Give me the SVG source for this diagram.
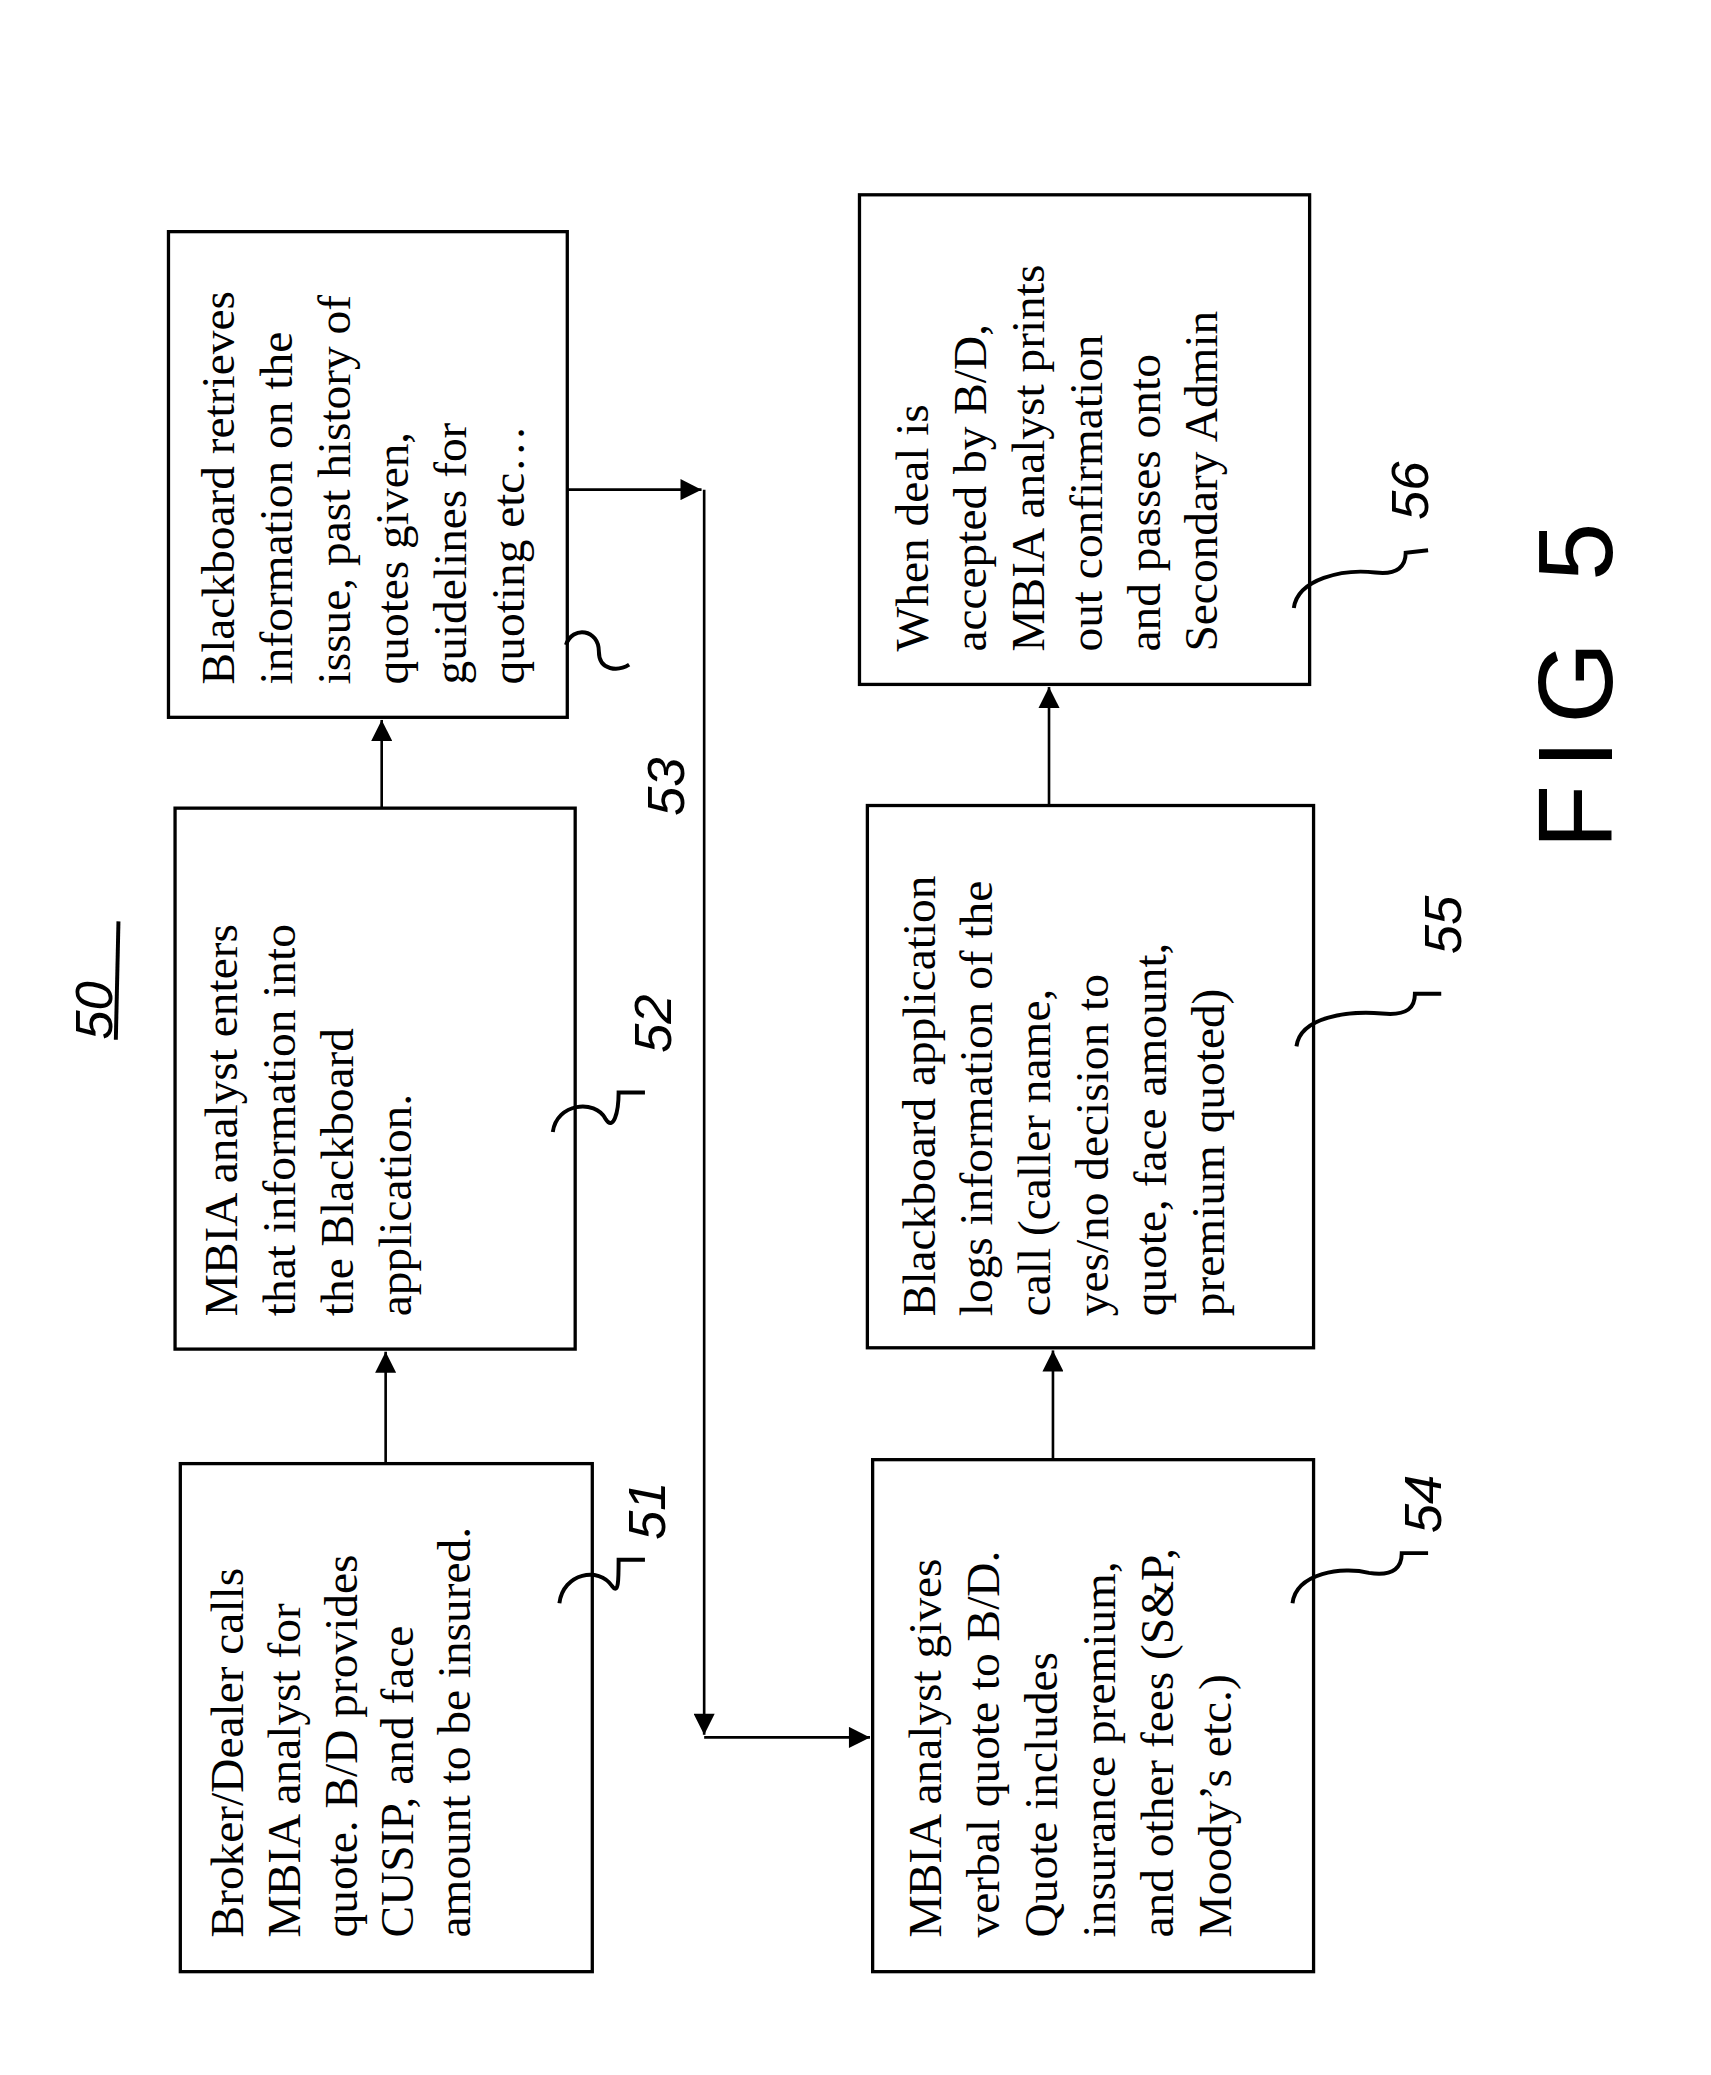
<svg xmlns="http://www.w3.org/2000/svg" width="1711" height="2075" viewBox="0 0 1711 2075">
<style>
.b{fill:#fff;stroke:#000;stroke-width:2.5}
.t{font-family:"Liberation Serif",serif;font-size:36px;fill:#000}
.c{fill:none;stroke:#000;stroke-width:2}
.h{font-family:"Liberation Sans",sans-serif;font-style:italic;font-size:40px;fill:#000}
.q{fill:none;stroke:#000;stroke-width:3}
</style>
<defs><marker id="a" viewBox="0 0 10 10" refX="10" refY="5" markerWidth="20" markerHeight="16" markerUnits="userSpaceOnUse" orient="auto"><path d="M0,0L10,5L0,10z"/></marker></defs>
<rect width="1711" height="2075" fill="#fff"/>
<g transform="scale(1.3162)">
<g id="connectors">
<line class="c" x1="293" y1="1112" x2="293" y2="1027" marker-end="url(#a)"/>
<line class="c" x1="290" y1="614" x2="290" y2="547" marker-end="url(#a)"/>
<polyline class="c" points="431,372 533,372" marker-end="url(#a)"/>
<polyline class="c" points="535,372 535,1318" marker-end="url(#a)"/>
<polyline class="c" points="535,1320 661,1320" marker-end="url(#a)"/>
<line class="c" x1="800" y1="1109" x2="800" y2="1026" marker-end="url(#a)"/>
<line class="c" x1="797" y1="612" x2="797" y2="522" marker-end="url(#a)"/>
</g>
<g id="n51"><rect class="b" x="137" y="1112" width="313" height="386"/>
<text class="t" transform="translate(185,1472) rotate(-90)">Broker/Dealer calls</text>
<text class="t" transform="translate(228,1472) rotate(-90)">MBIA analyst for</text>
<text class="t" transform="translate(271,1472) rotate(-90)">quote.  B/D provides</text>
<text class="t" transform="translate(314,1472) rotate(-90)">CUSIP, and face</text>
<text class="t" transform="translate(357,1472) rotate(-90)">amount to be insured.</text></g>
<g id="n52"><rect class="b" x="133" y="614" width="304" height="411"/>
<text class="t" transform="translate(180,1000) rotate(-90)">MBIA analyst enters</text>
<text class="t" transform="translate(224,1000) rotate(-90)">that information into</text>
<text class="t" transform="translate(268,1000) rotate(-90)">the Blackboard</text>
<text class="t" transform="translate(312,1000) rotate(-90)">application.</text></g>
<g id="n53"><rect class="b" x="128" y="176" width="303" height="369"/>
<text class="t" transform="translate(178,520) rotate(-90)">Blackboard retrieves</text>
<text class="t" transform="translate(222,520) rotate(-90)">information on the</text>
<text class="t" transform="translate(266,520) rotate(-90)">issue, past history of</text>
<text class="t" transform="translate(310,520) rotate(-90)">quotes given,</text>
<text class="t" transform="translate(354,520) rotate(-90)">guidelines for</text>
<text class="t" transform="translate(398,520) rotate(-90)">quoting etc…</text></g>
<g id="n54"><rect class="b" x="663" y="1109" width="335" height="389"/>
<text class="t" transform="translate(715,1472) rotate(-90)">MBIA analyst gives</text>
<text class="t" transform="translate(759,1472) rotate(-90)">verbal quote to B/D.</text>
<text class="t" transform="translate(803,1472) rotate(-90)">Quote includes</text>
<text class="t" transform="translate(847,1472) rotate(-90)">insurance premium,</text>
<text class="t" transform="translate(891,1472) rotate(-90)">and other fees (S&amp;P,</text>
<text class="t" transform="translate(935,1472) rotate(-90)">Moody’s etc.)</text></g>
<g id="n55"><rect class="b" x="659" y="612" width="339" height="412"/>
<text class="t" transform="translate(710,1000) rotate(-90)">Blackboard application</text>
<text class="t" transform="translate(754,1000) rotate(-90)">logs information of the</text>
<text class="t" transform="translate(798,1000) rotate(-90)">call (caller name,</text>
<text class="t" transform="translate(842,1000) rotate(-90)">yes/no decision to</text>
<text class="t" transform="translate(886,1000) rotate(-90)">quote, face amount,</text>
<text class="t" transform="translate(930,1000) rotate(-90)">premium quoted)</text></g>
<g id="n56"><rect class="b" x="653" y="148" width="342" height="372"/>
<text class="t" transform="translate(705,495) rotate(-90)">When deal is</text>
<text class="t" transform="translate(749,495) rotate(-90)">accepted by B/D,</text>
<text class="t" transform="translate(793,495) rotate(-90)">MBIA analyst prints</text>
<text class="t" transform="translate(837,495) rotate(-90)">out confirmation</text>
<text class="t" transform="translate(881,495) rotate(-90)">and passes onto</text>
<text class="t" transform="translate(925,495) rotate(-90)">Secondary Admin</text></g>
<g id="labels">
<text class="h" transform="translate(85,790) rotate(-90)">50</text>
<path class="q" d="M90,700 L88,790"/>
<text class="h" transform="translate(505,1170) rotate(-90)">51</text>
<path class="q" d="M425,1218 C428,1195 455,1190 465,1205 C470,1212 470,1200 470,1185 L490,1185"/>
<text class="h" transform="translate(510,800) rotate(-90)">52</text>
<path class="q" d="M420,860 C423,838 452,835 460,850 C466,860 470,845 470,830 L490,830"/>
<text class="h" transform="translate(520,620) rotate(-90)">53</text>
<path class="q" d="M430,490 C435,475 455,478 455,495 C455,510 470,510 478,505"/>
<text class="h" transform="translate(1095,1165) rotate(-90)">54</text>
<path class="q" d="M982,1218 C985,1195 1020,1190 1040,1195 C1060,1198 1065,1190 1065,1180 L1085,1180"/>
<text class="h" transform="translate(1110,725) rotate(-90)">55</text>
<path class="q" d="M985,795 C988,772 1025,768 1050,770 C1070,772 1075,765 1075,755 L1095,755"/>
<text class="h" transform="translate(1085,395) rotate(-90)">56</text>
<path class="q" d="M983,462 C986,440 1020,432 1045,435 C1062,437 1068,430 1068,420 L1085,418"/>
<text transform="translate(1225,645) rotate(-90)" style="font-family:'Liberation Sans',sans-serif;font-size:80px;letter-spacing:12px">FIG 5</text>
</g>
</g>
</svg>
